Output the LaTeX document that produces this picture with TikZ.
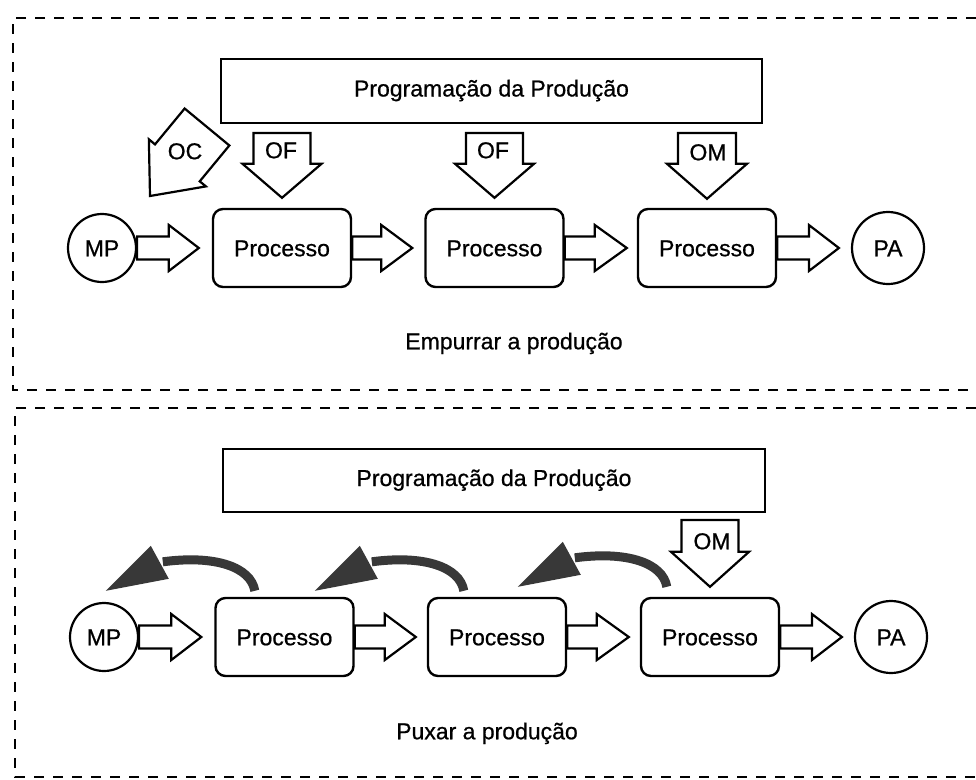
\documentclass[tikz,border=0pt]{standalone}
\usepackage{fontspec}
\setmainfont{Liberation Sans}[FakeBold=0.7]
\usetikzlibrary{calc}

% block arrow from #1 to #2: shaft half width #3, head half width #4, head length #5
\newcommand\blkarrow[5]{%
  \path ($(#2)!#5!(#1)$) coordinate (bahb);
  \draw[blockarrow] ($(#1)!#3!90:(#2)$) -- ($(bahb)!#3!90:(#2)$)
    -- ($(bahb)!#4!90:(#2)$) -- (#2) -- ($(bahb)!#4!-90:(#2)$)
    -- ($(bahb)!#3!-90:(#2)$) -- ($(#1)!#3!-90:(#2)$) -- cycle;
}

% curved dark "pull" arrow whose tail sits at #1
\newcommand\pullarrow[1]{%
  \begin{scope}[shift={(#1)}]
    \draw[pullshaft] (0,0) .. controls (-4,-24) and (-40,-36) .. (-92,-29);
    \fill[pullhead] (-149,0) -- (-104,-45) -- (-86,-12) -- cycle;
  \end{scope}}

\tikzset{
  basefont/.style={font=\fontsize{23}{27}\selectfont},
  txt/.style={basefont, inner sep=0pt, text height=16.5pt, text depth=0pt},
  procbox/.style={txt, draw, line width=2.4pt, rounded corners=10pt,
    minimum width=138pt, minimum height=78pt},
  stock/.style={txt, draw, circle, line width=2.2pt},
  progbox/.style={basefont, draw, line width=2pt, inner sep=0pt,
    text height=16.5pt, text depth=5.5pt},
  blockarrow/.style={draw, line width=2.2pt, fill=white, line join=miter},
  panel/.style={line width=2.3pt, dash pattern=on 10pt off 9pt},
  pullshaft/.style={line width=9pt, draw=black!78},
  pullhead/.style={fill=black!78},
}

\begin{document}
\begin{tikzpicture}[x=1pt, y=-1pt]
\useasboundingbox (0,0) rectangle (976,779);

% dashed frames
\draw[panel] (995,18) -| (13,390) -- (995,390);
\draw[panel] (995,408) -| (15,777) -- (995,777);

% ---------- push production ----------
\node[progbox, minimum width=541pt, minimum height=64pt] (progt) at (491.5,91) {Programação da Produção};

\node[stock, minimum size=68pt] (mpt) at (102,248) {MP};
\node[procbox] (p1t) at (282,248) {Processo};
\node[procbox] (p2t) at (494.5,248) {Processo};
\node[procbox] (p3t) at (707,248) {Processo};
\node[stock, minimum size=72pt] (pat) at (888,248) {PA};

\coordinate (ht1) at ($(p1t.west)+(-13,0)$);
\coordinate (ht2) at ($(p2t.west)+(-12,0)$);
\coordinate (ht3) at ($(p3t.west)+(-10,0)$);
\coordinate (ht4) at ($(pat.west)+(-12,0)$);
\blkarrow{mpt.east}{ht1}{11.5pt}{23pt}{30pt}
\blkarrow{p1t.east}{ht2}{11.5pt}{23pt}{31pt}
\blkarrow{p2t.east}{ht3}{11.5pt}{23pt}{32pt}
\blkarrow{p3t.east}{ht4}{11.5pt}{23pt}{30pt}

% orders coming down from the schedule
\coordinate (of1s) at ($(progt.south -| p1t.north)+(0,9)$);
\coordinate (of1e) at ($(p1t.north)+(0,-10)$);
\coordinate (of2s) at ($(progt.south -| p2t.north)+(0,9)$);
\coordinate (of2e) at ($(p2t.north)+(0,-10)$);
\coordinate (om1s) at ($(progt.south -| p3t.north)+(0,9)$);
\coordinate (om1e) at ($(p3t.north)+(0,-9)$);
\blkarrow{of1s}{of1e}{28.5pt}{39.5pt}{34pt}
\blkarrow{of2s}{of2e}{28.5pt}{39.5pt}{34pt}
\blkarrow{om1s}{om1e}{29pt}{40pt}{35pt}
\node[txt] (ofl1) at (281,150) {OF};
\node[txt] (ofl2) at (493,150) {OF};
\node[txt] (oml1) at (708,152) {OM};

% purchase order
\coordinate (ocs) at (207,127);
\coordinate (oce) at (150,196);
\blkarrow{ocs}{oce}{29pt}{37pt}{43pt}
\node[txt] (ocl) at (185,151) {OC};

\node[txt] (push) at (514,341) {Empurrar a produção};

% ---------- pull production ----------
\node[progbox, minimum width=542pt, minimum height=63pt] (progb) at (494,480.5) {Programação da Produção};

\node[stock, minimum size=68pt] (mpb) at (104,637) {MP};
\node[procbox] (p1b) at (284.5,637) {Processo};
\node[procbox] (p2b) at (497,637) {Processo};
\node[procbox] (p3b) at (710,637) {Processo};
\node[stock, minimum size=72pt] (pab) at (891,637) {PA};

\coordinate (hb1) at ($(p1b.west)+(-13,0)$);
\coordinate (hb2) at ($(p2b.west)+(-11,0)$);
\coordinate (hb3) at ($(p3b.west)+(-11,0)$);
\coordinate (hb4) at ($(pab.west)+(-12,0)$);
\blkarrow{mpb.east}{hb1}{11.5pt}{23pt}{30pt}
\blkarrow{p1b.east}{hb2}{11.5pt}{23pt}{31pt}
\blkarrow{p2b.east}{hb3}{11.5pt}{23pt}{32pt}
\blkarrow{p3b.east}{hb4}{11.5pt}{23pt}{30pt}

\coordinate (om2s) at ($(progb.south -| p3b.north)+(0,7)$);
\coordinate (om2e) at ($(p3b.north)+(0,-10)$);
\blkarrow{om2s}{om2e}{28.5pt}{39pt}{35pt}
\node[txt] (oml2) at (712,541) {OM};

% kanban signals travelling upstream
\coordinate (pull1) at ($(p1b.north west)+(40.5,-6)$);
\coordinate (pull2) at ($(p2b.north west)+(37,-6)$);
\coordinate (pull3) at ($(p3b.north west)+(27,-10)$);
\pullarrow{pull1}
\pullarrow{pull2}
\pullarrow{pull3}

\node[txt] (pull) at (487,731) {Puxar a produção};
\end{tikzpicture}
\end{document}
